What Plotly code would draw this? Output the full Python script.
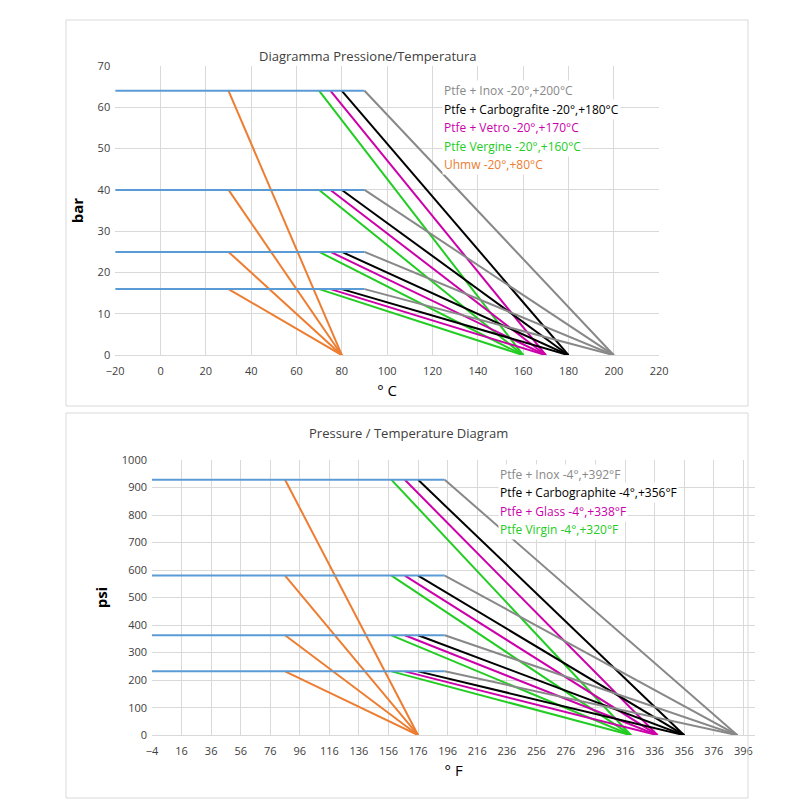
import plotly.graph_objects as go

# Data (Celsius / bar)
levels_bar = [64, 40, 25, 16]
flat_start_c = -20
flat_end_c = 90
series_c = [  # name, start temp, zero-pressure temp, colour
    ("Ptfe + Inox -20°,+200°C", 90, 200, "#888888"),
    ("Ptfe + Carbografite -20°,+180°C", 80, 180, "#000000"),
    ("Ptfe + Vetro -20°,+170°C", 75, 170, "#CC00AA"),
    ("Ptfe Vergine -20°,+160°C", 70, 160, "#22CC22"),
    ("Uhmw -20°,+80°C", 30, 80, "#ED7D31"),
]
# Fahrenheit / psi
levels_psi = [928, 580, 363, 232]
flat_start_f = -4
flat_end_f = 194
series_f = [
    ("Ptfe + Inox -4°,+392°F", 194, 392, "#888888"),
    ("Ptfe + Carbographite -4°,+356°F", 176, 356, "#000000"),
    ("Ptfe + Glass -4°,+338°F", 167, 338, "#CC00AA"),
    ("Ptfe Virgin -4°,+320°F", 158, 320, "#22CC22"),
    ("", 86, 176, "#ED7D31"),
]
xticks_f = list(range(-4, 397, 20))

fig = go.Figure()
blue = "#5B9BD5"

def add(levels, fs, fe, series, xa, ya):
    for nm, s, e, c in series[::-1]:
        for L in levels:
            fig.add_trace(go.Scatter(x=[s, e], y=[L, 0], mode="lines",
                                     line=dict(color=c, width=2), xaxis=xa, yaxis=ya,
                                     showlegend=False, hoverinfo="skip"))
    for L in levels:
        fig.add_trace(go.Scatter(x=[fs, fe], y=[L, L], mode="lines",
                                 line=dict(color=blue, width=2), xaxis=xa, yaxis=ya,
                                 showlegend=False, hoverinfo="skip"))

add(levels_bar, flat_start_c, flat_end_c, series_c, "x", "y")
add(levels_psi, flat_start_f, flat_end_f, series_f, "x2", "y2")

grid = "#D9D9D9"
font = dict(family="Open Sans, Liberation Sans", size=11, color="#404040")
common = dict(showgrid=True, gridcolor=grid, zeroline=False, automargin=False, ticks="")
fig.update_layout(
    width=800, height=800, margin=dict(l=0, r=0, t=0, b=0, autoexpand=False),
    plot_bgcolor="white", paper_bgcolor="white", font=font,
    xaxis=dict(domain=[0.134, 0.814], anchor="y", range=[-20, 220], dtick=20,
               showline=True, linecolor=grid, ticklabelstandoff=6,
               title=dict(text="° C", font=dict(size=15, color="black"), standoff=8), **common),
    yaxis=dict(domain=[0.566, 0.9275], anchor="x", range=[0, 70], dtick=10, ticklabelstandoff=4,
               title=dict(text="<b>bar</b>", font=dict(size=15, color="black"), standoff=10), **common),
    xaxis2=dict(domain=[0.18, 0.934], anchor="y2", range=[-4, 404],
                tickvals=xticks_f, showline=True, linecolor=grid, ticklabelstandoff=6,
                title=dict(text="° F", font=dict(size=15, color="black"), standoff=8), **common),
    yaxis2=dict(domain=[0.091, 0.435], anchor="x2", range=[0, 1000], dtick=100, ticklabelstandoff=4,
                title=dict(text="<b>psi</b>", font=dict(size=15, color="black"), standoff=10), **common),
)

# panel borders
for y0, y1 in [(1 - 398/800, 1 - 12/800), (1 - 790/800, 1 - 405/800)]:
    fig.add_shape(type="rect", xref="paper", yref="paper", x0=58/800, x1=740/800,
                  y0=y0, y1=y1, line=dict(color="#D9D9D9", width=1))

fig.add_annotation(text="Diagramma Pressione/Temperatura", xref="paper", yref="paper",
                   x=0.45, y=1 - 37/800, showarrow=False, font=dict(size=13, color="#404040"))
fig.add_annotation(text="Pressure / Temperature Diagram", xref="paper", yref="paper",
                   x=0.50, y=1 - 425/800, showarrow=False, font=dict(size=13, color="#404040"))

def legend(series, x0, ytop, dy):
    items = [s for s in series if s[0]]
    for i, (nm, s, e, c) in enumerate(items):
        fig.add_annotation(text=nm, xref="paper", yref="paper", x=x0, y=1 - (ytop + i * dy)/800,
                           xanchor="left", showarrow=False, bgcolor="white",
                           font=dict(size=12, color=c))

legend(series_c, 434/800, 72, 18.5)
legend(series_f, 490/800, 466, 18.5)

fig.write_html("out.html")
